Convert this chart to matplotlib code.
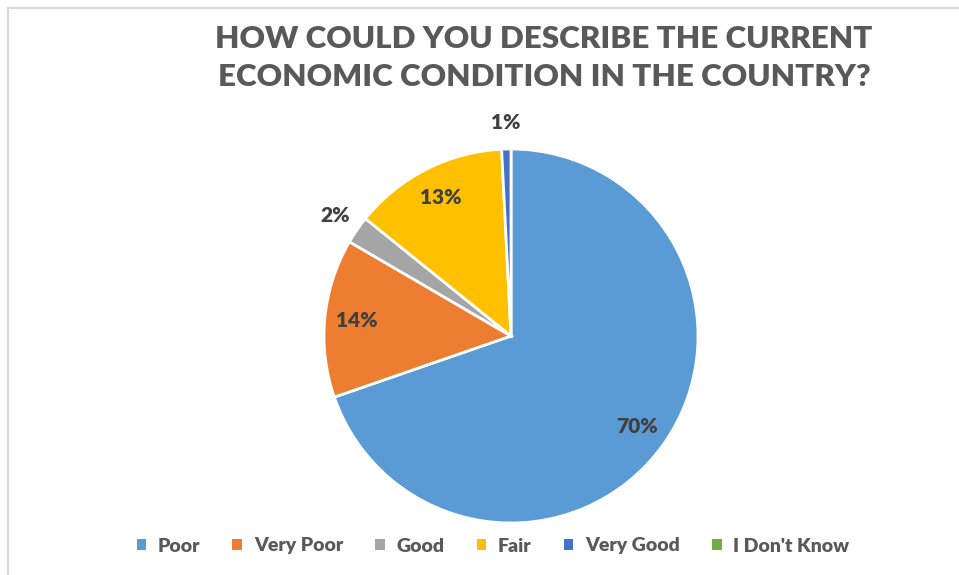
import matplotlib
matplotlib.use("Agg")
import matplotlib.pyplot as plt
from matplotlib.patches import Patch
from matplotlib.lines import Line2D
import numpy as np

# survey answers, share of respondents (%)
categories = ["Poor", "Very Poor", "Good", "Fair", "Very Good", "I Don't Know"]
shares = [69.7, 13.7, 2.4, 13.4, 0.8, 0.0]
colors = ["#5B9BD5", "#ED7D31", "#A5A5A5", "#FFC000", "#4472C4", "#70AD47"]
title = "HOW COULD YOU DESCRIBE THE CURRENT\nECONOMIC CONDITION IN THE COUNTRY?"

plt.rcParams['font.family'] = ['Lato', 'DejaVu Sans']

W, H = 959, 575
fig = plt.figure(figsize=(W / 100, H / 100), dpi=100)

# thin frame on the top and left edges
fig.add_artist(Line2D([8 / W, 1], [1 - 8 / H, 1 - 8 / H], color="#D9D9D9", lw=1.5))
fig.add_artist(Line2D([8 / W, 8 / W], [0, 1 - 8 / H], color="#D9D9D9", lw=1.5))

fig.text(544 / W, 1 - 58 / H, title, ha="center", va="center", fontsize=22.6,
         fontweight="heavy", color="#595959", linespacing=1.45)

cx, cy, r = 511, 336, 187
ax = fig.add_axes([(cx - r) / W, (H - cy - r) / H, 2 * r / W, 2 * r / H])

# zero answers get no wedge, only a legend entry
vals = [v for v in shares if v > 0]
cols = [c for v, c in zip(shares, colors) if v > 0]
wedges, _ = ax.pie(vals, colors=cols, startangle=90, counterclock=False,
                   radius=1, wedgeprops=dict(edgecolor="white", linewidth=2))

total = sum(vals)
start = 90.0
for w, v in zip(wedges, vals):
    span = 360 * v / total
    mid = np.deg2rad(start - span / 2)
    start -= span
    d = 0.83 if v >= 5 else 1.14
    ax.text(d * np.cos(mid), d * np.sin(mid), f"{round(v)}%", ha="center",
            va="center", fontsize=15, fontweight="heavy", color="#404040")

ax.set_xlim(-1, 1)
ax.set_ylim(-1, 1)
ax.set_aspect("equal")
ax.axis("off")

handles = [Patch(facecolor=c, edgecolor="none") for c in colors]
fig.legend(handles, categories, loc="center", bbox_to_anchor=(493 / W, 1 - 546 / H),
           ncol=6, frameon=False, handlelength=0.5, handleheight=0.5,
           handletextpad=0.6, columnspacing=1.65, labelcolor="#595959",
           prop=dict(weight="heavy", size=14))

fig.savefig("out.png", dpi=100)
